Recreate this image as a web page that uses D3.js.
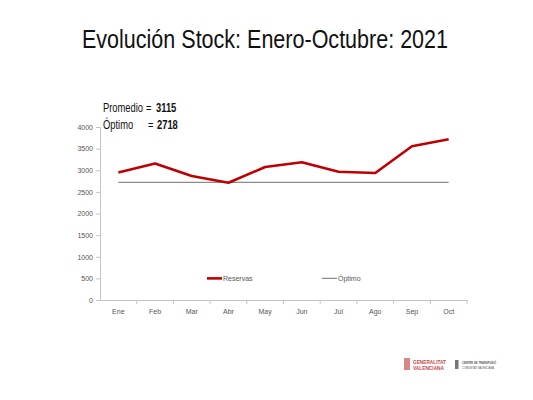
<!DOCTYPE html>
<html>
<head>
<meta charset="utf-8">
<script src="https://cdn.jsdelivr.net/npm/d3@7"></script>
<style>
  body { margin: 0; background: #fff; }
  text { font-family: "Liberation Sans", Arial, sans-serif; }
</style>
</head>
<body>
<div id="chart"></div>
<script>
// data
const months = ["Ene", "Feb", "Mar", "Abr", "May", "Jun", "Jul", "Ago", "Sep", "Oct"];
const reservas = [2950, 3155, 2865, 2710, 3075, 3185, 2965, 2935, 3555, 3715];
const optimo = 2718;
const promedio = 3115;
const yTicks = [0, 500, 1000, 1500, 2000, 2500, 3000, 3500, 4000];

const W = 533, H = 400;
const margin = { top: 127, right: 66, bottom: 100, left: 100 },
    width = W - margin.left - margin.right,
    height = H - margin.top - margin.bottom;

const root = d3.select("#chart").append("svg")
    .attr("width", W)
    .attr("height", H);

// title (narrow font squeezed to the original width)
root.append("text")
    .attr("x", 82)
    .attr("y", 48)
    .attr("textLength", 366)
    .attr("lengthAdjust", "spacingAndGlyphs")
    .style("font-size", "25px")
    .attr("fill", "#111")
    .text("Evolución Stock: Enero-Octubre: 2021");

const svg = root.append("g")
    .attr("transform", `translate(${margin.left},${margin.top})`);

const x = d3.scaleBand()
    .domain(months)
    .range([0, width]);

const y = d3.scaleLinear()
    .domain([0, 4000])
    .range([height, 0]);

// y axis
const yAxis = svg.append("g")
    .style("color", "#555")
    .call(d3.axisLeft(y).tickValues(yTicks).tickFormat(d3.format("d")).tickSize(4).tickPadding(3));
yAxis.select(".domain").attr("stroke", "#c4c4c4");
yAxis.selectAll(".tick line").attr("stroke", "#c4c4c4");
yAxis.selectAll("text").style("font-size", "7px");

// x axis, ticks on the band edges
const xAxis = svg.append("g")
    .style("color", "#555")
    .attr("transform", `translate(0,${height})`)
    .call(d3.axisBottom(x).tickSize(0).tickPadding(9));
xAxis.select(".domain").attr("stroke", "#c4c4c4");
xAxis.selectAll("text").style("font-size", "7px");
svg.append("g")
    .selectAll("line")
    .data(months)
    .enter()
    .append("line")
    .attr("x1", d => x(d) + x.bandwidth())
    .attr("x2", d => x(d) + x.bandwidth())
    .attr("y1", height)
    .attr("y2", height + 4)
    .attr("stroke", "#c4c4c4");

const cx = d => x(d) + x.bandwidth() / 2;

// optimo line
svg.append("line")
    .attr("x1", cx(months[0]))
    .attr("x2", cx(months[months.length - 1]))
    .attr("y1", y(optimo))
    .attr("y2", y(optimo))
    .attr("stroke", "#8c8c8c")
    .attr("stroke-width", 1.3);

// reservas line
svg.append("path")
    .datum(reservas)
    .attr("fill", "none")
    .attr("stroke", "#c00000")
    .attr("stroke-width", 2.6)
    .attr("stroke-linejoin", "round")
    .attr("d", d3.line()
        .x((d, i) => cx(months[i]))
        .y(d => y(d)));

// legend
const legend = svg.append("g").attr("transform", `translate(0,${y(500)})`);
legend.append("line")
    .attr("x1", 107).attr("x2", 122).attr("y1", 0).attr("y2", 0)
    .attr("stroke", "#c00000").attr("stroke-width", 2.6);
legend.append("text")
    .attr("x", 123).attr("y", 2.5)
    .style("font-size", "7px").attr("fill", "#555")
    .text("Reservas");
legend.append("line")
    .attr("x1", 222).attr("x2", 237).attr("y1", 0).attr("y2", 0)
    .attr("stroke", "#8c8c8c").attr("stroke-width", 1.3);
legend.append("text")
    .attr("x", 238).attr("y", 2.5)
    .style("font-size", "7px").attr("fill", "#555")
    .text("Óptimo");

// promedio / optimo notes, drawn condensed
const sx = 0.75;
const note = root.append("g")
    .attr("transform", `scale(${sx},1)`)
    .style("font-size", "12.5px")
    .attr("fill", "#111");
function noteText(x0, y0, str, bold) {
    note.append("text").attr("x", x0 / sx).attr("y", y0)
        .style("font-weight", bold ? "bold" : "normal")
        .text(str);
}
noteText(103, 112, "Promedio", false);
noteText(146, 112, "=", false);
noteText(156, 112, promedio, true);
noteText(103, 129.5, "Óptimo", false);
noteText(148, 129.5, "=", false);
noteText(157, 129.5, optimo, true);

// logos at the bottom
const logo = root.append("g");
logo.append("rect").attr("x", 404).attr("y", 358).attr("width", 6).attr("height", 12).attr("fill", "#d9868a");
logo.append("text").attr("x", 413).attr("y", 363.5)
    .attr("textLength", 33).attr("lengthAdjust", "spacingAndGlyphs")
    .style("font-size", "5px").style("font-weight", "bold").attr("fill", "#c9474e").text("GENERALITAT");
logo.append("text").attr("x", 413).attr("y", 369.5)
    .attr("textLength", 31).attr("lengthAdjust", "spacingAndGlyphs")
    .style("font-size", "5px").style("font-weight", "bold").attr("fill", "#c9474e").text("VALENCIANA");
logo.append("rect").attr("x", 455).attr("y", 360).attr("width", 3.5).attr("height", 9).attr("fill", "#777");
logo.append("text").attr("x", 462).attr("y", 364)
    .attr("textLength", 34).attr("lengthAdjust", "spacingAndGlyphs")
    .style("font-size", "3.5px").style("font-weight", "bold").attr("fill", "#555").text("CENTRE DE TRANSFUSIÓ");
logo.append("text").attr("x", 462).attr("y", 368.5)
    .attr("textLength", 32).attr("lengthAdjust", "spacingAndGlyphs")
    .style("font-size", "3.5px").attr("fill", "#555").text("COMUNITAT VALENCIANA");
</script>
</body>
</html>
